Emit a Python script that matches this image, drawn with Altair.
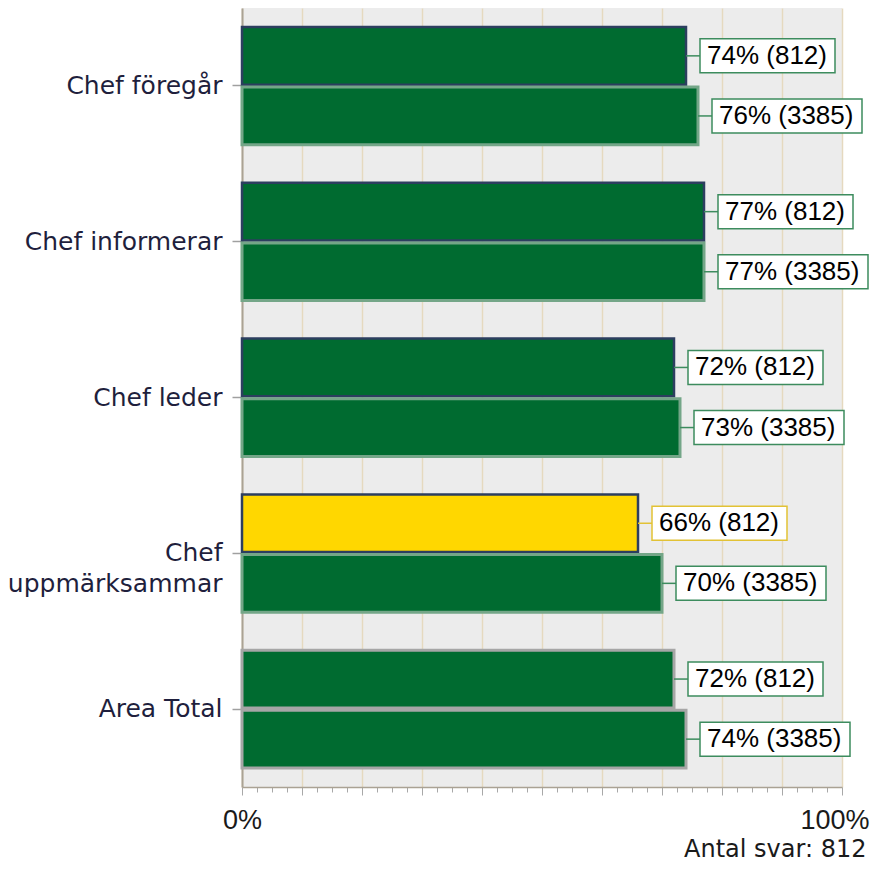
import altair as alt
import pandas as pd

categories = ["Chef föregår", "Chef informerar", "Chef leder", "Chef uppmärksammar", "Area Total"]
series = ["812", "3385"]
pct_812 = [74, 77, 72, 66, 72]
pct_3385 = [76, 77, 73, 70, 74]
x_ticks = [i * 2.5 for i in range(41)]
footer = "Antal svar: 812"

rows = []
for c, a, b in zip(categories, pct_812, pct_3385):
    rows.append({"category": c, "series": series[0], "pct": a})
    rows.append({"category": c, "series": series[1], "pct": b})
df = pd.DataFrame(rows)

low = "(datum.category == 'Chef uppmärksammar' && datum.series == '812')"

base = alt.Chart(df).transform_calculate(
    label="datum.pct + '% (' + datum.series + ')'",
    fillc=f"{low} ? '#ffd700' : '#006b30'",
    strokec="datum.category == 'Area Total' ? '#a6a6a6' : (datum.series == '812' ? '#2c3e5f' : '#74a688')",
    sw="datum.category == 'Area Total' ? 3 : (datum.series == '812' ? 2.5 : 3)",
    boxc=f"{low} ? '#e2c235' : '#3d8c5e'",
).encode(
    y=alt.Y(
        "category:N",
        sort=categories,
        scale=alt.Scale(paddingInner=0.244, paddingOuter=0.122),
        axis=alt.Axis(
            title=None,
            labelFont="DejaVu Sans",
            labelFontSize=25,
            labelColor="#1f1f3d",
            labelPadding=10,
            labelLimit=300,
            labelLineHeight=31,
            tickSize=10,
            tickColor="#a0a0a0",
            tickWidth=1.5,
            domainColor="#aaa294",
            domainWidth=2,
            labelExpr="datum.value == 'Chef uppmärksammar' ? ['Chef', 'uppmärksammar'] : datum.value",
        ),
    ),
    yOffset=alt.YOffset("series:N", sort=series, scale=alt.Scale(paddingInner=0.04)),
    x=alt.X(
        "pct:Q",
        scale=alt.Scale(domain=[0, 100], nice=False),
        axis=alt.Axis(
            values=x_ticks,
            labelExpr="datum.value == 0 || datum.value == 100 ? datum.value + '%' : ''",
            labelFlush=False,
            labelOverlap=False,
            labelAlign={"condition": {"test": "datum.value === 100", "value": "right"}, "value": "center"},
            labelOffset={"condition": {"test": "datum.value === 100", "value": 27}, "value": 0},
            labelFont="Liberation Sans",
            labelFontSize=27,
            labelColor="#1a1a1a",
            labelPadding=12,
            grid=True,
            gridColor="#e5d9bf",
            gridWidth=1.5,
            gridOpacity={"condition": {"test": "datum.value % 10 === 0", "value": 1}, "value": 0},
            tickColor="#a8a8a8",
            tickWidth=1,
            tickSize={"condition": {"test": "datum.value % 10 === 0", "value": 8}, "value": 5},
            domainColor="#aaa294",
            domainWidth=1.5,
            title=footer,
            titleFont="DejaVu Sans",
            titleFontSize=24,
            titleFontWeight="normal",
            titleColor="#1a1a1a",
            titleAlign="right",
            titleAnchor="end",
            titleX=624,
            titleY=69,
            titleBaseline="alphabetic",
        ),
    ),
)

bars = base.mark_bar().encode(
    fill=alt.Fill("fillc:N", scale=None),
    stroke=alt.Stroke("strokec:N", scale=None),
    strokeWidth=alt.StrokeWidth("sw:Q", scale=None),
)

connector = base.mark_rule(x2Offset=14, strokeWidth=1.5).encode(
    x2=alt.X2("pct:Q"),
    stroke=alt.Stroke("boxc:N", scale=None),
)

box_small = base.transform_filter("datum.series == '812'").mark_bar(
    height=34, xOffset=14, x2Offset=149, fill="white", strokeWidth=1.5
).encode(
    x2=alt.X2("pct:Q"),
    stroke=alt.Stroke("boxc:N", scale=None),
)

box_big = base.transform_filter("datum.series == '3385'").mark_bar(
    height=34, xOffset=14, x2Offset=164, fill="white", strokeWidth=1.5
).encode(
    x2=alt.X2("pct:Q"),
    stroke=alt.Stroke("boxc:N", scale=None),
)

text = base.mark_text(
    align="left", baseline="middle", dx=21, font="Liberation Sans", fontSize=26, color="black"
).encode(text="label:N")

chart = (
    alt.layer(bars, connector, box_small, box_big, text)
    .properties(
        width=600,
        height=779,
        autosize=alt.AutoSizeParams(type="none"),
        padding={"left": 234, "top": 0, "right": 29, "bottom": 77},
    )
    .configure_view(fill="#ececec", stroke=None)
)

chart.save("out.html", embed_options={"renderer": "svg", "actions": False})
